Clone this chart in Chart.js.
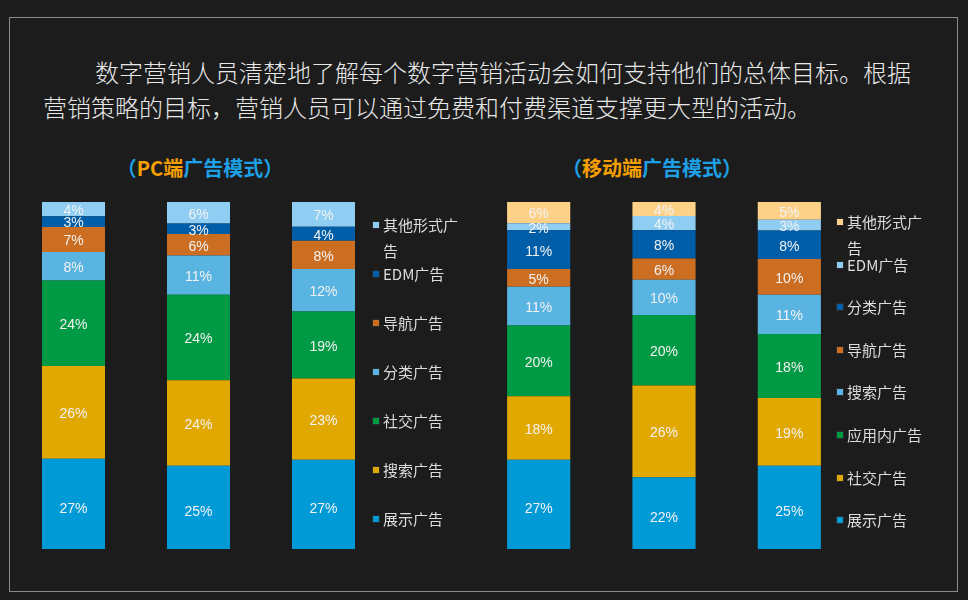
<!DOCTYPE html>
<html>
<head>
<meta charset="utf-8">
<script src="https://cdn.jsdelivr.net/npm/chart.js@4.4.1/dist/chart.umd.min.js"></script>
<style>
html, body { margin: 0; padding: 0; background: #1c1c1c; }
body { width: 968px; height: 600px; position: relative; overflow: hidden; font-family: "Noto Sans CJK SC", "Noto Sans", sans-serif; }
.frame { position: absolute; left: 9px; top: 17px; width: 949px; height: 575px; border: 1px solid #8a8a8a; box-sizing: border-box; }
.intro { position: absolute; left: 43px; top: 54px; color: #e8e8e8; font-size: 24px; line-height: 35px; font-weight: 300; white-space: nowrap; }
.intro .first { padding-left: 52px; }
.title { position: absolute; top: 153px; font-size: 20px; font-weight: bold; color: #1ea0e6; transform: translateX(-50%); white-space: nowrap; }
.title .o { color: #f5a000; }
.clip { position: absolute; top: 190px; height: 359px; overflow: hidden; }
.clip canvas { display: block; }
.legend { position: absolute; top: 0; color: #dcdcdc; font-size: 15px; }
.legend .item { position: absolute; left: 0; display: flex; align-items: flex-start; line-height: 26px; }
.legend .sw { width: 8px; height: 8px; margin-top: 9px; margin-right: 3px; box-sizing: border-box; border: 1px solid #2a2a2a; }
.legend .txt { width: 80px; }
</style>
</head>
<body>
<div class="frame"></div>
<div class="intro">
  <div class="first">数字营销人员清楚地了解每个数字营销活动会如何支持他们的总体目标。根据</div>
  <div>营销策略的目标，营销人员可以通过免费和付费渠道支撑更大型的活动。</div>
</div>
<div class="title" style="left:200px">（<span class="o">PC端</span>广告模式）</div>
<div class="title" style="left:652px">（<span class="o">移动端</span>广告模式）</div>

<div class="clip" style="left:11px;width:375px"><canvas id="pcChart" width="375" height="377"></canvas></div>
<div class="clip" style="left:476px;width:376px"><canvas id="mobileChart" width="376" height="377"></canvas></div>
<div id="pcLegend" class="legend" style="left:372px"></div>
<div id="mobileLegend" class="legend" style="left:836px"></div>

<script>
// PC端 (bottom to top of each stack)
const pcGroups = ['1', '2', '3'];
const pcSeries = ['展示广告', '搜索广告', '社交广告', '分类广告', '导航广告', 'EDM广告', '其他形式广告'];
const pcDisplay = [27, 25, 27];
const pcSearch  = [26, 24, 23];
const pcSocial  = [24, 24, 19];
const pcClass   = [8, 11, 12];
const pcNav     = [7, 6, 8];
const pcEdm     = [3, 3, 4];
const pcOther   = [4, 6, 7];
const pcColors = ['#009ad6', '#e0a800', '#009944', '#5ab4e2', '#cc6e22', '#005ea8', '#8fcdf3'];

// 移动端
const mobileGroups = ['1', '2', '3'];
const mobileSeries = ['展示广告', '社交广告', '应用内广告', '搜索广告', '导航广告', '分类广告', 'EDM广告', '其他形式广告'];
const mobileDisplay = [27, 22, 25];
const mobileSocial  = [18, 26, 19];
const mobileInApp   = [20, 20, 18];
const mobileSearch  = [11, 10, 11];
const mobileNav     = [5, 6, 10];
const mobileClass   = [11, 8, 8];
const mobileEdm     = [2, 4, 3];
const mobileOther   = [6, 4, 5];
const mobileColors = ['#009ad6', '#e0a800', '#009944', '#5ab4e2', '#cc6e22', '#005ea8', '#8fcdf3', '#fdd288'];

// draws the percentage in the middle of each segment
const segmentLabels = {
  id: 'segmentLabels',
  afterDatasetsDraw(chart) {
    const ctx = chart.ctx;
    ctx.save();
    ctx.font = '14px "Liberation Sans", Arial, sans-serif';
    ctx.fillStyle = '#f2f2f2';
    ctx.textAlign = 'center';
    ctx.textBaseline = 'middle';
    chart.data.datasets.forEach((ds, i) => {
      chart.getDatasetMeta(i).data.forEach((bar, j) => {
        const { x, y, base } = bar.getProps(['x', 'y', 'base'], true);
        ctx.fillText(ds.shown[j] + '%', x, (y + base) / 2 + 2);
      });
    });
    ctx.restore();
  }
};

function makeChart(id, groups, names, values, colors) {
  // each column is scaled so the stack fills 100%
  const totals = groups.map((g, j) => values.reduce((s, v) => s + v[j], 0));
  const datasets = names.map((name, i) => ({
    label: name,
    data: values[i].map((v, j) => v / totals[j] * 100),
    shown: values[i],
    backgroundColor: colors[i],
    borderWidth: 0,
    categoryPercentage: 1,
    barPercentage: 0.504
  }));
  return new Chart(document.getElementById(id), {
    type: 'bar',
    data: { labels: groups, datasets: datasets },
    options: {
      responsive: false,
      animation: false,
      devicePixelRatio: 1,
      layout: { padding: { top: 12, bottom: 12, left: 0, right: 0 } },
      plugins: { legend: { display: false }, tooltip: { enabled: false } },
      scales: {
        x: { stacked: true, display: false },
        y: { stacked: true, display: false, min: 0, max: 100 }
      }
    },
    plugins: [segmentLabels]
  });
}

function makeLegend(id, names, colors, firstY, step) {
  const box = document.getElementById(id);
  const order = names.map((n, i) => i).reverse();
  order.forEach((idx, k) => {
    const item = document.createElement('div');
    item.className = 'item';
    item.style.top = (firstY + k * step) + 'px';
    item.innerHTML = `<span class="sw" style="background:${colors[idx]}"></span><span class="txt">${names[idx]}</span>`;
    box.appendChild(item);
  });
}

makeChart('pcChart', pcGroups, pcSeries,
  [pcDisplay, pcSearch, pcSocial, pcClass, pcNav, pcEdm, pcOther], pcColors);
makeChart('mobileChart', mobileGroups, mobileSeries,
  [mobileDisplay, mobileSocial, mobileInApp, mobileSearch, mobileNav, mobileClass, mobileEdm, mobileOther], mobileColors);

makeLegend('pcLegend', pcSeries, pcColors, 212, 49);
makeLegend('mobileLegend', mobileSeries, mobileColors, 209, 42.6);
</script>
</body>
</html>
